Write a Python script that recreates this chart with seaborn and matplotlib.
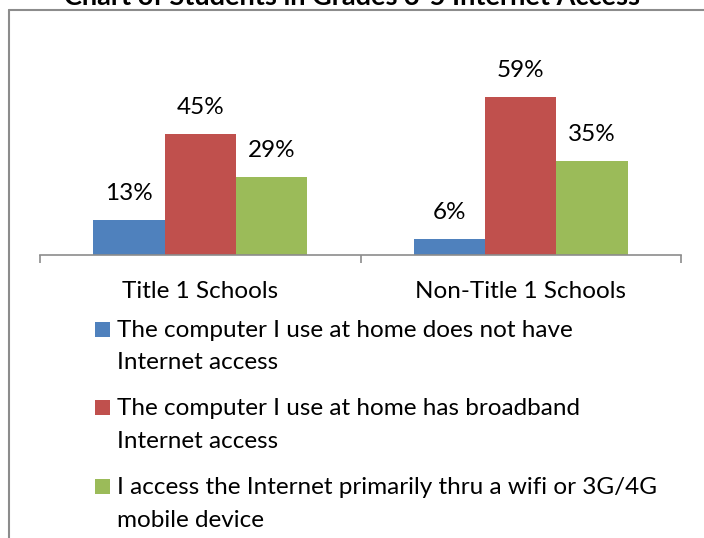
import matplotlib
matplotlib.use("Agg")
import matplotlib.pyplot as plt
from matplotlib.lines import Line2D
from matplotlib.patches import Rectangle
import pandas as pd
import seaborn as sns

# ---- data -------------------------------------------------------------
schools = ["Title 1 Schools", "Non-Title 1 Schools"]
series = [
    "The computer I use at home does not have\nInternet access",
    "The computer I use at home has broadband\nInternet access",
    "I access the Internet primarily thru a wifi or 3G/4G\nmobile device",
]
no_access = [13, 6]
broadband = [45, 59]
mobile = [29, 35]
colors = ["#4F81BD", "#C0504D", "#9BBB59"]
title = "Chart of Students in Grades 3-5 Internet Access"

rows = []
for name, vals in zip(series, [no_access, broadband, mobile]):
    for school, v in zip(schools, vals):
        rows.append({"school": school, "series": name, "pct": v})
df = pd.DataFrame(rows)

# ---- figure -------------------------------------------------------------
sns.set_theme(style="white")
plt.rcParams["font.family"] = ["Lato", "DejaVu Sans"]
FS = 17.5
GRAY = "#8C8C8C"

W, H = 704, 538
fig = plt.figure(figsize=(W / 100, H / 100), dpi=100)
fig.patch.set_facecolor("white")


def fx(px):
    return px / W


def fy(py):
    return 1 - py / H


# plot area: baseline at y=255 px, 2.68 px per percent
base_y, top_y = 255, 255 - 70 * 2.68
ax = fig.add_axes([fx(40), fy(base_y), fx(681) - fx(40), (base_y - top_y) / H])

sns.barplot(data=df, x="school", y="pct", hue="series", hue_order=series,
            order=schools, palette=colors, saturation=1, width=2 / 3,
            linewidth=0, legend=False, ax=ax)

ax.set_xlim(-0.5, 1.5)
ax.set_ylim(0, 70)
ax.set_xlabel("")
ax.set_ylabel("")
ax.set_yticks([])
for side in ["left", "right", "top"]:
    ax.spines[side].set_visible(False)
ax.spines["bottom"].set_color(GRAY)
ax.spines["bottom"].set_linewidth(1.2)
ax.set_xticks([-0.5, 0.5, 1.5])
ax.set_xticklabels([])
ax.tick_params(axis="x", which="major", direction="out", length=5.8,
               width=1.2, color=GRAY, bottom=True)
ax.patch.set_alpha(0)

# value labels above bars
for cont, vals in zip(ax.containers, [no_access, broadband, mobile]):
    texts = ax.bar_label(cont, labels=[f"{v}%" for v in vals], padding=14.4,
                         fontsize=FS, color="black")
    for t in texts:
        t.set_verticalalignment("baseline")

# category names under the axis
for i, school in enumerate(schools):
    ax.annotate(school, xy=(i, 0), xycoords=ax.get_xaxis_transform(),
                xytext=(0, -31), textcoords="offset points",
                ha="center", va="baseline", fontsize=FS, color="black")

# legend, one square plus wrapped text per series
for i, (name, col) in enumerate(zip(series, colors)):
    baseline = 336.7 + 78.7 * i
    fig.patches.append(Rectangle((fx(95), fy(baseline)), fx(15), 15 / H,
                                 transform=fig.transFigure, color=col,
                                 linewidth=0))
    for j, line in enumerate(name.split("\n")):
        fig.text(fx(117), fy(baseline + 32.5 * j), line, fontsize=FS,
                 ha="left", va="baseline", color="black")

# chart title and outer frame
fig.text(fx(352), fy(5), title, fontsize=19.5, fontweight="bold",
         ha="center", va="baseline", color="black")
fig.add_artist(Line2D([fx(9), 1], [fy(10), fy(10)], transform=fig.transFigure,
                      color=GRAY, linewidth=1.5))
fig.add_artist(Line2D([fx(9), fx(9)], [fy(10), 0], transform=fig.transFigure,
                      color=GRAY, linewidth=1.5))

fig.savefig("out.png", dpi=100)
